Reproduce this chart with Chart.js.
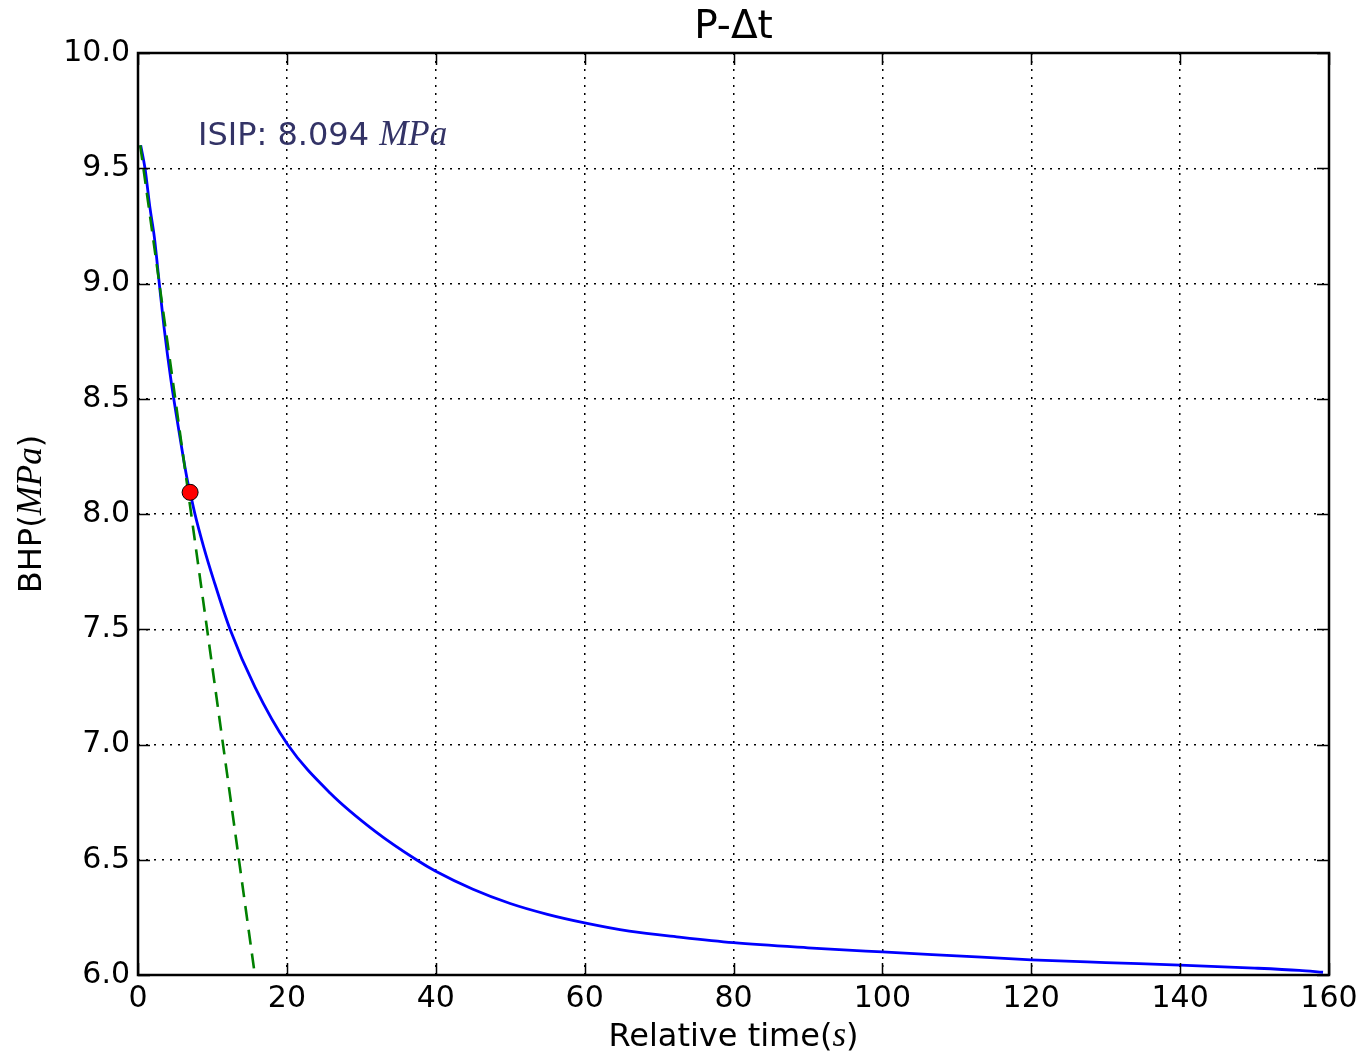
<!DOCTYPE html>
<html>
<head>
<meta charset="utf-8">
<script src="https://cdn.jsdelivr.net/npm/chart.js@4.4.0/dist/chart.umd.min.js"></script>
<style>
  html, body { margin: 0; padding: 0; background: #fff; }
  #wrap { width: 1369px; height: 1057px; }
</style>
</head>
<body>
<div id="wrap"><canvas id="pChart" width="1369" height="1057"></canvas></div>
<script>
// bottom-hole pressure after shut-in
const timeValues = [0.36, 0.94, 1.6, 2.2, 2.86, 3.5, 4.43, 5.5, 6.62, 7.0, 7.62, 8.8, 10.2, 12.36, 15.7, 20.1, 25.8, 32, 37.4, 40, 45, 50, 55, 60, 66, 73, 80, 90, 100, 110, 120, 130, 140, 150, 156, 159.2];
const bhpValues = [9.60, 9.50, 9.33, 9.20, 9.00, 8.81, 8.58, 8.36, 8.148, 8.094, 8.004, 7.86, 7.71, 7.50, 7.25, 7.00, 6.79, 6.62, 6.50, 6.45, 6.372, 6.31, 6.263, 6.226, 6.19, 6.163, 6.14, 6.118, 6.10, 6.083, 6.066, 6.054, 6.043, 6.03, 6.02, 6.012];

// tangent line (dashed green)
const fitTime = [0.3, 15.7];
const fitBhp = [9.60, 6.0];

// ISIP point
const isipTime = [7.0];
const isipBhp = [8.094];

const xTicks = [0, 20, 40, 60, 80, 100, 120, 140, 160];
const yTicks = [6.0, 6.5, 7.0, 7.5, 8.0, 8.5, 9.0, 9.5, 10.0];

const toPoints = (xs, ys) => xs.map((x, i) => ({ x: x, y: ys[i] }));

const sans = 'DejaVu Sans';
const mathFont = 'Liberation Serif';

// draw text made of plain and italic (math) pieces
function drawMixed(ctx, parts, x, y, size, align) {
    const fontOf = p => p.italic ? 'italic ' + Math.round(size * 1.1) + 'px "' + mathFont + '"' : size + 'px "' + sans + '"';
    let widths = parts.map(p => {
        ctx.font = fontOf(p);
        return ctx.measureText(p.text).width;
    });
    let total = widths.reduce((a, b) => a + b, 0);
    let cx = align === 'center' ? x - total / 2 : x;
    parts.forEach((p, i) => {
        ctx.font = fontOf(p);
        ctx.fillText(p.text, cx, y);
        cx += widths[i];
    });
}

const framePlugin = {
    id: 'frame',
    afterDraw(chart) {
        const ctx = chart.ctx;
        const a = chart.chartArea;
        const xs = chart.scales.x;
        const ys = chart.scales.y;
        ctx.save();
        ctx.strokeStyle = '#000';
        ctx.lineWidth = 1.5;
        // inward ticks on all four sides
        xTicks.forEach(v => {
            const px = Math.round(xs.getPixelForValue(v)) + 0.5;
            ctx.beginPath();
            ctx.moveTo(px, a.bottom); ctx.lineTo(px, a.bottom - 12);
            ctx.moveTo(px, a.top); ctx.lineTo(px, a.top + 12);
            ctx.stroke();
        });
        yTicks.forEach(v => {
            const py = Math.round(ys.getPixelForValue(v)) + 0.5;
            ctx.beginPath();
            ctx.moveTo(a.left, py); ctx.lineTo(a.left + 12, py);
            ctx.moveTo(a.right, py); ctx.lineTo(a.right - 12, py);
            ctx.stroke();
        });
        ctx.lineWidth = 2.5;
        ctx.strokeRect(a.left, a.top, a.right - a.left, a.bottom - a.top);

        ctx.fillStyle = '#000';
        ctx.textBaseline = 'alphabetic';
        // title
        ctx.font = '39px "' + sans + '"';
        ctx.textAlign = 'center';
        ctx.fillText('P-\u0394t', (a.left + a.right) / 2, 38);
        ctx.textAlign = 'left';
        // x label
        drawMixed(ctx, [{ text: 'Relative time(' }, { text: 's', italic: true }, { text: ')' }],
            (a.left + a.right) / 2, 1046, 32, 'center');
        // y label
        ctx.save();
        ctx.translate(41, (a.top + a.bottom) / 2);
        ctx.rotate(-Math.PI / 2);
        drawMixed(ctx, [{ text: 'BHP(' }, { text: 'MPa', italic: true }, { text: ')' }], 0, 0, 32, 'center');
        ctx.restore();
        // annotation
        ctx.fillStyle = '#333366';
        drawMixed(ctx, [{ text: 'ISIP: ' + isipBhp[0].toFixed(3) + ' ' }, { text: 'MPa', italic: true }], 198, 145, 32, 'left');
        ctx.restore();
    }
};

const data = {
    datasets: [{
        label: 'ISIP',
        data: toPoints(isipTime, isipBhp),
        showLine: false,
        pointRadius: 8,
        pointHoverRadius: 8,
        pointBackgroundColor: '#ff0000',
        pointBorderColor: '#000',
        pointBorderWidth: 1,
        order: 0
    }, {
        label: 'tangent',
        data: toPoints(fitTime, fitBhp),
        borderColor: '#008000',
        borderWidth: 2.6,
        borderDash: [15, 9],
        pointRadius: 0,
        fill: false,
        order: 1
    }, {
        label: 'BHP',
        data: toPoints(timeValues, bhpValues),
        borderColor: '#0000ff',
        borderWidth: 2.8,
        pointRadius: 0,
        cubicInterpolationMode: 'monotone',
        fill: false,
        order: 2
    }]
};

const config = {
    type: 'line',
    data: data,
    options: {
        responsive: false,
        animation: false,
        layout: {
            padding: { left: 0, top: 53, right: 40, bottom: 0 }
        },
        scales: {
            x: {
                type: 'linear',
                min: 0,
                max: 160,
                afterFit: (scale) => { scale.height = 82; },
                afterBuildTicks: (scale) => { scale.ticks = xTicks.map(v => ({ value: v })); },
                ticks: {
                    color: '#000',
                    padding: 6,
                    font: { family: sans, size: 30 },
                    maxRotation: 0
                },
                grid: {
                    color: '#000',
                    lineWidth: 1.5,
                    drawTicks: false
                },
                border: { display: false, dash: [2, 6] }
            },
            y: {
                type: 'linear',
                min: 6,
                max: 10,
                afterFit: (scale) => { scale.width = 138; },
                afterBuildTicks: (scale) => { scale.ticks = yTicks.map(v => ({ value: v })); },
                ticks: {
                    color: '#000',
                    padding: 8,
                    font: { family: sans, size: 30 },
                    callback: (v) => Number(v).toFixed(1)
                },
                grid: {
                    color: '#000',
                    lineWidth: 1.5,
                    drawTicks: false
                },
                border: { display: false, dash: [2, 6] }
            }
        },
        plugins: {
            legend: { display: false },
            title: { display: false },
            tooltip: { enabled: false }
        }
    },
    plugins: [framePlugin]
};

const pChart = new Chart(document.getElementById('pChart'), config);
</script>
</body>
</html>
